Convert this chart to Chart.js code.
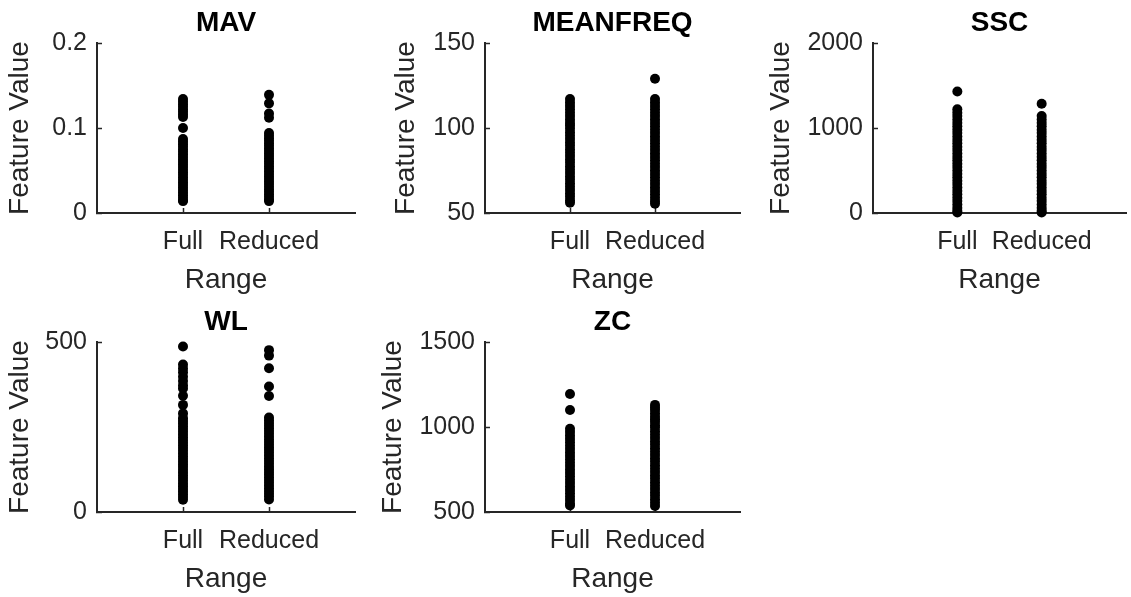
<!DOCTYPE html>
<html>
<head>
<meta charset="utf-8">
<script src="https://cdn.jsdelivr.net/npm/chart.js@4.4.1/dist/chart.umd.min.js"></script>
<style>
html, body { margin: 0; padding: 0; background: #fff; overflow: hidden; }
body { width: 1131px; height: 597px; position: relative; }
canvas { position: absolute; }
</style>
</head>
<body>
<canvas id="cMAV"></canvas>
<canvas id="cMEANFREQ"></canvas>
<canvas id="cSSC"></canvas>
<canvas id="cWL"></canvas>
<canvas id="cZC"></canvas>
<script>
const categories = ['Full', 'Reduced'];

const mavTicks = [0, 0.1, 0.2];
const mavFull = [0.134, 0.131, 0.128, 0.125, 0.122, 0.119, 0.116, 0.113, 0.100, 0.087, 0.084, 0.081, 0.078, 0.075, 0.072, 0.069, 0.066, 0.063, 0.060, 0.057, 0.054, 0.051, 0.048, 0.045, 0.042, 0.039, 0.036, 0.033, 0.030, 0.027, 0.024, 0.021, 0.018, 0.015, 0.014];
const mavReduced = [0.139, 0.129, 0.117, 0.112, 0.094, 0.091, 0.088, 0.085, 0.082, 0.079, 0.076, 0.073, 0.070, 0.067, 0.064, 0.061, 0.058, 0.055, 0.052, 0.049, 0.046, 0.043, 0.040, 0.037, 0.034, 0.031, 0.028, 0.025, 0.022, 0.019, 0.016, 0.014];

const meanfreqTicks = [50, 100, 150];
const meanfreqFull = [117, 115, 113, 111, 109, 107, 105, 103, 101.5, 99.5, 97.5, 95.5, 93.5, 91.5, 89.5, 87.5, 85.5, 83.5, 81.5, 79.5, 77.5, 75.5, 73.5, 71.5, 69.5, 67.5, 65.5, 63.5, 61.5, 59.5, 57.5, 56];
const meanfreqReduced = [129, 117, 115, 113, 111, 109, 107, 105, 103, 101, 99, 97, 95, 93, 91, 89, 87, 85, 83, 81, 79, 77, 75, 73, 71, 69, 67, 65, 63, 61, 59, 57, 55.5];

const sscTicks = [0, 1000, 2000];
const sscFull = [1430, 1220, 1180, 1140, 1100, 1060, 1020, 980, 940, 900, 860, 820, 780, 740, 700, 660, 620, 580, 540, 500, 460, 420, 380, 340, 300, 260, 220, 180, 140, 100, 60, 25, 5];
const sscReduced = [1285, 1140, 1100, 1060, 1020, 980, 940, 900, 860, 820, 780, 740, 700, 660, 620, 580, 540, 500, 460, 420, 380, 340, 300, 260, 220, 180, 140, 100, 60, 25, 5];

const wlTicks = [0, 500];
const wlFull = [487, 434, 422, 411, 398, 385, 373, 363, 342, 315, 290, 276, 268, 260, 252, 244, 236, 228, 220, 212, 204, 196, 188, 180, 172, 164, 156, 148, 140, 132, 124, 116, 108, 100, 92, 84, 76, 68, 60, 52, 44, 36];
const wlReduced = [476, 460, 423, 369, 341, 278, 270, 262, 254, 246, 238, 230, 222, 214, 206, 198, 190, 182, 174, 166, 158, 150, 142, 134, 126, 118, 110, 102, 94, 86, 78, 70, 62, 54, 46, 37];

const zcTicks = [500, 1000, 1500];
const zcFull = [1194, 1100, 990, 970, 950, 930, 910, 890, 870, 850, 830, 810, 790, 770, 750, 730, 710, 690, 670, 650, 630, 610, 590, 570, 550, 538];
const zcReduced = [1130, 1115, 1100, 1080, 1060, 1045, 1030, 1010, 995, 975, 955, 935, 915, 895, 875, 855, 835, 815, 795, 775, 755, 735, 715, 695, 675, 655, 635, 615, 595, 575, 555, 535];

Chart.defaults.font.family = '"Liberation Sans", Arial, sans-serif';
Chart.defaults.color = '#262626';

const axisColor = '#262626';

function criarPainel(id, titulo, full, reduced, yTicks, pos) {
    const canvas = document.getElementById(id);
    canvas.width = pos.width;
    canvas.height = 300;
    canvas.style.left = pos.left + 'px';
    canvas.style.top = pos.top + 'px';

    const pontos = [full, reduced].map((serie, i) => serie.map(v => ({ x: i + 1, y: v })));

    new Chart(canvas, {
        type: 'scatter',
        data: {
            datasets: [{
                data: pontos[0].concat(pontos[1]),
                backgroundColor: '#000',
                borderWidth: 0,
                pointRadius: 5,
                pointHoverRadius: 5,
                clip: false
            }]
        },
        options: {
            responsive: false,
            animation: false,
            devicePixelRatio: 1,
            events: [],
            layout: { padding: { left: 0, right: 2, top: 0, bottom: 0 } },
            plugins: {
                legend: { display: false },
                tooltip: { enabled: false },
                title: {
                    display: true,
                    text: titulo,
                    color: '#000',
                    fullSize: false,
                    font: { size: 28, weight: 'bold', lineHeight: 1 },
                    padding: { top: 9, bottom: 6 }
                }
            },
            scales: {
                x: {
                    type: 'linear',
                    min: 0,
                    max: categories.length + 1,
                    afterBuildTicks: s => { s.ticks = categories.map((c, i) => ({ value: i + 1 })); },
                    afterFit: s => { s.height = 87; },
                    ticks: {
                        callback: v => categories[v - 1],
                        font: { size: 25 },
                        color: axisColor,
                        padding: 19,
                        maxRotation: 0,
                        autoSkip: false
                    },
                    grid: { drawOnChartArea: false, tickLength: -5, tickColor: axisColor, tickWidth: 1.5 },
                    border: { display: true, color: axisColor, width: 2 },
                    title: {
                        display: true,
                        text: 'Range',
                        color: axisColor,
                        font: { size: 28, lineHeight: 1 },
                        padding: { top: 4, bottom: 6 }
                    }
                },
                y: {
                    min: yTicks[0],
                    max: yTicks[yTicks.length - 1],
                    afterBuildTicks: s => { s.ticks = yTicks.map(v => ({ value: v })); },
                    afterFit: s => { s.width = pos.yWidth; },
                    ticks: {
                        callback: v => String(v),
                        font: { size: 25 },
                        color: axisColor,
                        padding: 15
                    },
                    grid: { drawOnChartArea: false, tickLength: -5, tickColor: axisColor, tickWidth: 1.5 },
                    border: { display: true, color: axisColor, width: 2 },
                    title: {
                        display: true,
                        text: 'Feature Value',
                        color: axisColor,
                        font: { size: 28, lineHeight: 1 },
                        padding: { top: 6, bottom: 4 }
                    }
                }
            }
        }
    });
}

criarPainel('cMAV', 'MAV', mavFull, mavReduced, mavTicks, { left: 0, top: 0, width: 360, yWidth: 97 });
criarPainel('cMEANFREQ', 'MEANFREQ', meanfreqFull, meanfreqReduced, meanfreqTicks, { left: 386, top: 0, width: 359, yWidth: 99 });
criarPainel('cSSC', 'SSC', sscFull, sscReduced, sscTicks, { left: 761, top: 0, width: 370, yWidth: 112 });
criarPainel('cWL', 'WL', wlFull, wlReduced, wlTicks, { left: 0, top: 299, width: 360, yWidth: 97 });
criarPainel('cZC', 'ZC', zcFull, zcReduced, zcTicks, { left: 373, top: 299, width: 372, yWidth: 112 });
</script>
</body>
</html>
